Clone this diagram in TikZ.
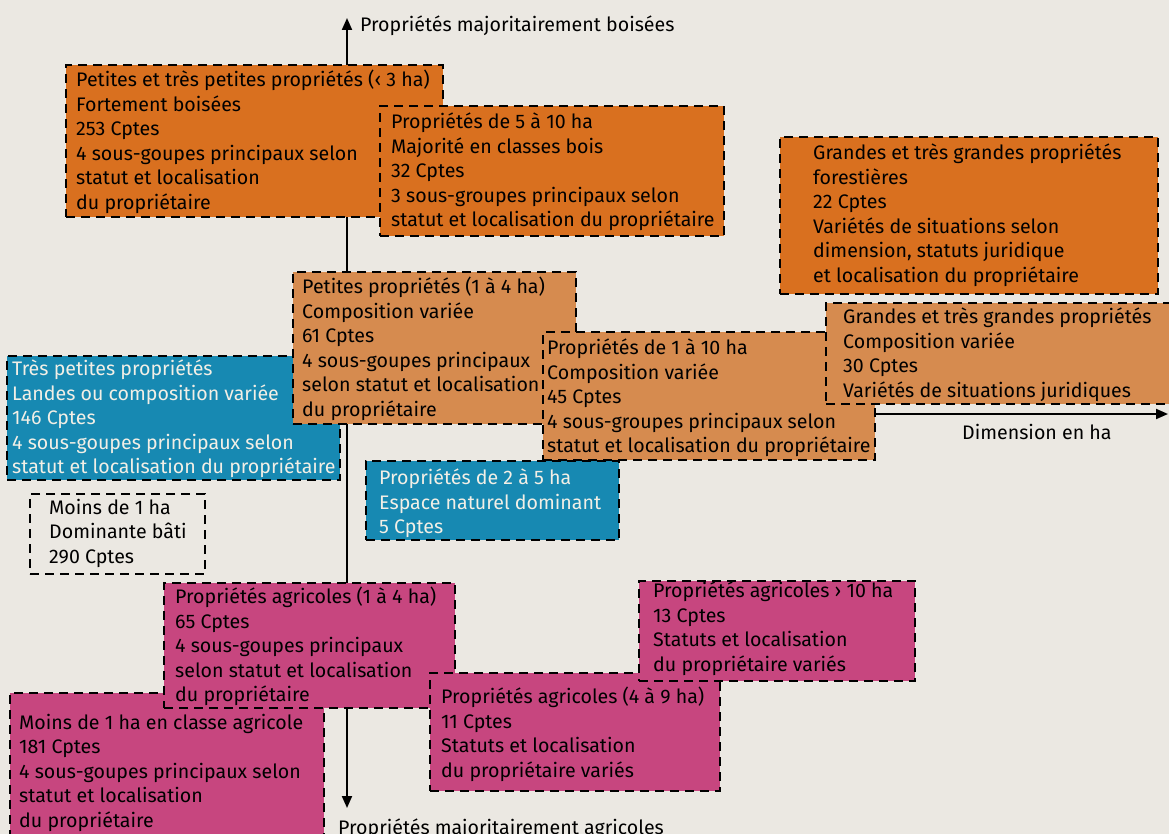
\documentclass[tikz,border=0pt]{standalone}
\usepackage{fontspec}
\setmainfont{Fira Sans}
\usetikzlibrary{arrows.meta}
\definecolor{bgc}{HTML}{EBE8E2}
\definecolor{dorange}{HTML}{D9701F}
\definecolor{lorange}{HTML}{D68B4F}
\definecolor{cblue}{HTML}{1789B2}
\definecolor{cmag}{HTML}{C7467F}
\definecolor{ctxtb}{HTML}{F2EFE6}
\begin{document}
\begin{tikzpicture}[x=1pt,y=-1pt,
  box/.style={draw=black, line width=2.2pt, dash pattern=on 9pt off 6pt, anchor=north west, inner sep=0pt},
  txt/.style={anchor=north west, align=left, inner sep=0pt, yshift=15.15pt,
    font=\fontsize{19.6}{24.5}\selectfont, execute at begin node=\strut},
  lbl/.style={anchor=base west, inner sep=0pt, font=\fontsize{19.6}{24.5}\selectfont},
  axisline/.style={line width=2pt, -{Triangle[length=12pt,width=10pt]}}]
\useasboundingbox (0,0) rectangle (1169,834);
\clip (0,0) rectangle (1169,834);
\fill[bgc] (0,0) rectangle (1169,834);

% axes
\coordinate (orig) at (347,414);
\coordinate (ytop) at (347,18);
\coordinate (ybot) at (347,808);
\coordinate (xend) at (1168,414);
\draw[axisline] (orig) -- (ytop);
\draw[axisline] (orig) -- (ybot);
\draw[axisline] (orig) -- (xend);
\node[lbl] (lbltop) at (360,32) {Propriétés majoritairement boisées};
\node[lbl] (lblx) at (962,439) {Dimension en ha};
\node[lbl] (lblbot) at (338,834) {Propriétés majoritairement agricoles};

% dark orange boxes
\node[box, fill=dorange, minimum width=377pt, minimum height=152pt] (b1) at (65,64) {};
\node[txt] (t1) at (76,85) {Petites et très petites propriétés (‹ 3 ha)\\Fortement boisées\\253 Cptes\\4 sous-goupes principaux selon\\statut et localisation\\du propriétaire};
\node[box, fill=dorange, minimum width=344pt, minimum height=130pt] (b2) at (379,105) {};
\node[txt] (t2) at (391,128) {Propriétés de 5 à 10 ha\\Majorité en classes bois\\32 Cptes\\3 sous-groupes principaux selon\\statut et localisation du propriétaire};
\node[box, fill=dorange, minimum width=378pt, minimum height=157pt] (b3) at (779,136) {};
\node[txt] (t3) at (813,159) {Grandes et très grandes propriétés\\forestières\\22 Cptes\\Variétés de situations selon\\dimension, statuts juridique\\et localisation du propriétaire};

% blue box 1 (under light orange)
\node[box, fill=cblue, minimum width=333pt, minimum height=124pt] (b7) at (6,355) {};
\node[txt, text=ctxtb] (t7) at (12,375) {Très petites propriétés\\Landes ou composition variée\\146 Cptes\\4 sous-goupes principaux selon\\statut et localisation du propriétaire};

% light orange boxes
\node[box, fill=lorange, minimum width=283pt, minimum height=152pt] (b4) at (292,271) {};
\node[txt] (t4) at (302,292) {Petites propriétés (1 à 4 ha)\\Composition variée\\61 Cptes\\4 sous-goupes principaux\\selon statut et localisation\\du propriétaire};
\node[box, fill=lorange, minimum width=332pt, minimum height=128pt] (b5) at (542,331) {};
\node[txt] (t5) at (547,354) {Propriétés de 1 à 10 ha\\Composition variée\\45 Cptes\\4 sous-groupes principaux selon\\statut et localisation du propriétaire};
\node[box, fill=lorange, minimum width=400pt, minimum height=101pt] (b6) at (825,302) {};
\node[txt] (t6) at (843,323) {Grandes et très grandes propriétés\\Composition variée\\30 Cptes\\Variétés de situations juridiques};

% blue box 2
\node[box, fill=cblue, minimum width=253pt, minimum height=79pt] (b8) at (365,460) {};
\node[txt, text=ctxtb] (t8) at (379,484) {Propriétés de 2 à 5 ha\\Espace naturel dominant\\5 Cptes};

% unfilled box
\node[box, minimum width=175pt, minimum height=80pt] (b9) at (29,493) {};
\node[txt] (t9) at (49,514) {Moins de 1 ha\\Dominante bâti\\290 Cptes};

% magenta boxes
\node[box, fill=cmag, minimum width=314pt, minimum height=180pt] (b10) at (9,692) {};
\node[txt] (t10) at (19,729) {Moins de 1 ha en classe agricole\\181 Cptes\\4 sous-goupes principaux selon\\statut et localisation\\du propriétaire};
\node[box, fill=cmag, minimum width=291pt, minimum height=125pt] (b11) at (163,582) {};
\node[txt] (t11) at (175,602) {Propriétés agricoles (1 à 4 ha)\\65 Cptes\\4 sous-goupes principaux\\selon statut et localisation\\du propriétaire};
\node[box, fill=cmag, minimum width=290pt, minimum height=118pt] (b12) at (429,672) {};
\node[txt] (t12) at (441,702) {Propriétés agricoles (4 à 9 ha)\\11 Cptes\\Statuts et localisation\\du propriétaire variés};
\node[box, fill=cmag, minimum width=276pt, minimum height=100pt] (b13) at (638,580) {};
\node[txt] (t13) at (653,597) {Propriétés agricoles › 10 ha\\13 Cptes\\Statuts et localisation\\du propriétaire variés};
\end{tikzpicture}
\end{document}
